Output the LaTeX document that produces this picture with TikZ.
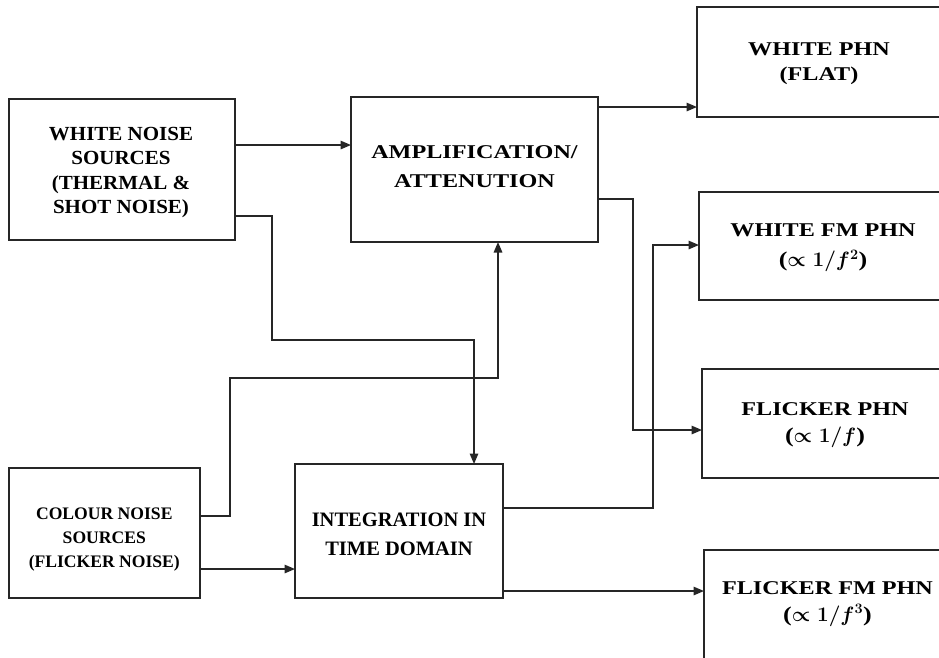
\documentclass[tikz,border=0pt]{standalone}
\usepackage{fontspec}
\setmainfont{Liberation Serif}
\newfontfamily\wideserif[FakeStretch=1.24]{Liberation Serif}
\newfontfamily\midserif[FakeStretch=1.05]{Liberation Serif}
\usetikzlibrary{arrows.meta}

\begin{document}
\begin{tikzpicture}[x=1pt,y=-1pt,
  box/.style={draw=black!85, line width=1.5pt, rectangle, inner sep=0pt,
              outer sep=0pt, anchor=north west},
  lbl/.style={align=center, inner sep=0pt, anchor=center},
  link/.style={draw=black!85, line width=1.5pt},
  arr/.style={link, -{Triangle[length=10.5pt,width=8.5pt]}},
  mathline/.style={font={\fontsize{21}{21}\selectfont}}]

\useasboundingbox (0,0) rectangle (939,657);
\clip (0,0) rectangle (939,657);

% ---------- blocks ----------
\node[box, minimum width=226pt, minimum height=141pt] (wn)   at (9,99)   {};
\node[box, minimum width=247pt, minimum height=145pt] (amp)  at (351,97) {};
\node[box, minimum width=191pt, minimum height=130pt] (cn)   at (9,468)  {};
\node[box, minimum width=208pt, minimum height=134pt] (int)  at (295,464) {};
\node[box, minimum width=250pt, minimum height=110pt] (wphn) at (697,7)   {};
\node[box, minimum width=250pt, minimum height=108pt] (wfm)  at (699,192) {};
\node[box, minimum width=250pt, minimum height=109pt] (fphn) at (702,369) {};
\node[box, minimum width=250pt, minimum height=130pt] (ffm)  at (704,550) {};

% ---------- block texts ----------
\node[lbl, font={\midserif\fontsize{20}{24.4}\bfseries\selectfont}] (wnt) at (121,172.5)
  {WHITE NOISE\\SOURCES\\(THERMAL \&\\SHOT NOISE)};
\node[lbl, font={\wideserif\fontsize{19.5}{29}\bfseries\selectfont}] (ampt) at (474.5,167)
  {AMPLIFICATION/\\ATTENUTION};
\node[lbl, font={\fontsize{17.6}{24}\bfseries\selectfont}] (cnt) at (104.3,539.5)
  {COLOUR NOISE\\SOURCES\\(FLICKER NOISE)};
\node[lbl, font={\fontsize{20.5}{28.5}\bfseries\selectfont}] (intt) at (399,534.3)
  {INTEGRATION IN\\TIME DOMAIN};
\node[lbl, font={\wideserif\fontsize{19.5}{25}\bfseries\selectfont}] (wphnt) at (819,63.3)
  {WHITE PHN\\(FLAT)};
\node[lbl, font={\wideserif\fontsize{19.5}{30}\bfseries\selectfont}] (wfmt) at (823,248)
  {WHITE FM PHN\\{\fontsize{21}{30}\selectfont({\boldmath$\propto 1/f^{2}$})}};
\node[lbl, font={\wideserif\fontsize{19.5}{27}\bfseries\selectfont}] (fphnt) at (825,424.7)
  {FLICKER PHN\\{\fontsize{21}{27}\selectfont({\boldmath$\propto 1/f$})}};
\node[lbl, font={\wideserif\fontsize{19.5}{27}\bfseries\selectfont}] (ffmt) at (827.5,604)
  {FLICKER FM PHN\\{\fontsize{21}{27}\selectfont({\boldmath$\propto 1/f^{3}$})}};

% ---------- routing points ----------
\coordinate (c1) at (272,216);
\coordinate (c2) at (272,340);
\coordinate (c3) at (474,340);
\coordinate (d1) at (230,516);
\coordinate (d2) at (230,378);
\coordinate (d3) at (498,378);
\coordinate (e1) at (633,199);
\coordinate (e2) at (633,430);
\coordinate (f1) at (653,508);
\coordinate (f2) at (653,245);

% ---------- connectors ----------
\draw[arr] (wn.east |- {0,145}) -- (amp.west |- {0,145});
\draw[arr] (wn.east |- c1) -- (c1) -- (c2) -- (c3) -- (c3 |- int.north);
\draw[arr] (cn.east |- d1) -- (d1) -- (d2) -- (d3) -- (d3 |- amp.south);
\draw[arr] (cn.east |- {0,569}) -- (int.west |- {0,569});
\draw[arr] (amp.east |- {0,107}) -- (wphn.west |- {0,107});
\draw[arr] (amp.east |- e1) -- (e1) -- (e2) -- (fphn.west |- e2);
\draw[arr] (int.east |- f1) -- (f1) -- (f2) -- (wfm.west |- f2);
\draw[arr] (int.east |- {0,591}) -- (ffm.west |- {0,591});

\end{tikzpicture}
\end{document}
